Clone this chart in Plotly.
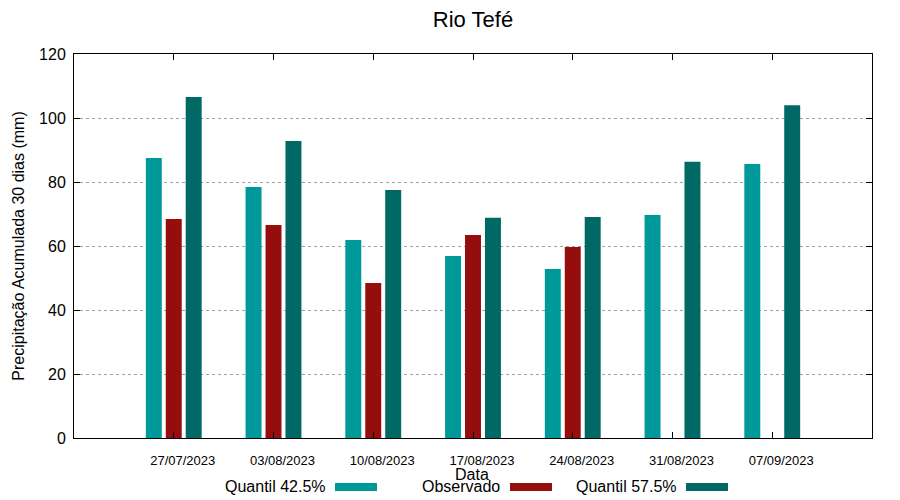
import plotly.graph_objects as go

dates = ["27/07/2023", "03/08/2023", "10/08/2023", "17/08/2023",
         "24/08/2023", "31/08/2023", "07/09/2023"]
q425 = [87.5, 78.4, 61.9, 56.9, 52.8, 69.7, 85.6]
observado = [68.4, 66.6, 48.4, 63.4, 59.7, None, None]
q575 = [106.6, 92.8, 77.5, 68.8, 69.1, 86.3, 104.0]

names = ["Quantil 42.5%", "Observado", "Quantil 57.5%"]
colors = ["#009999", "#960d0d", "#006965"]
series = [q425, observado, q575]

FONT = "Liberation Sans, Arial, sans-serif"

fig = go.Figure()
for n, c, s in zip(names, colors, series):
    fig.add_trace(go.Bar(x=dates, y=s, name=n, marker=dict(color=c, line=dict(width=0)),
                         showlegend=False))

# page has an 8px body margin; size the figure so the plot area lands where the reference has it
OFF = 8
W, H = 900 - OFF, 500 - OFF
L, R, T, B = 74 - OFF, 28, 54 - OFF, 62
pw, ph = W - L - R, H - T - B

def px(x):
    return (x - 74) / pw

def py(y):
    return (438 - y) / ph

fig.update_layout(
    width=W, height=H,
    margin=dict(l=L, r=R, t=T, b=B, autoexpand=False),
    paper_bgcolor="white", plot_bgcolor="white",
    barmode="group", bargap=0.4, bargroupgap=0.2,
    font=dict(family=FONT, color="black"),
    title=dict(text="Rio Tefé", x=0.5, xref="paper", xanchor="center",
               y=1 - (19 - OFF) / H, yanchor="middle", font=dict(size=22, family=FONT)),
    xaxis=dict(type="category", range=[-1, 7], showline=True, linecolor="black",
               linewidth=1, mirror="ticks", ticks="inside", ticklen=6,
               tickcolor="black", showgrid=False, tickfont=dict(size=13),
               ticklabelshift=9, ticklabelstandoff=10, automargin=False),
    yaxis=dict(range=[0, 120], dtick=20, showline=True, linecolor="black",
               linewidth=1, mirror="ticks", ticks="inside", ticklen=6,
               tickcolor="black", showgrid=True, gridcolor="#a0a0a0",
               griddash="dot", gridwidth=1, zeroline=False, automargin=False,
               tickfont=dict(size=16), ticklabelstandoff=4,
               title=dict(text="Precipitação Acumulada 30 dias (mm)",
                          font=dict(size=16), standoff=10)),
)

annotations = [dict(text="Data", xref="paper", yref="paper", x=px(472), y=py(474),
                    xanchor="center", yanchor="middle", showarrow=False,
                    font=dict(size=16, family=FONT))]
text_right = [328, 502, 679]
sw_left = [335, 510, 686]
shapes = []
for n, c, tr, sl in zip(names, colors, text_right, sw_left):
    annotations.append(dict(text=n, xref="paper", yref="paper", x=px(tr), y=py(486),
                            xanchor="right", yanchor="middle", showarrow=False,
                            font=dict(size=16, family=FONT)))
    shapes.append(dict(type="rect", xref="paper", yref="paper",
                       x0=px(sl), x1=px(sl + 42), y0=py(491), y1=py(483),
                       fillcolor=c, line=dict(width=0)))
fig.update_layout(annotations=annotations, shapes=shapes)

fig.write_html("out.html")
